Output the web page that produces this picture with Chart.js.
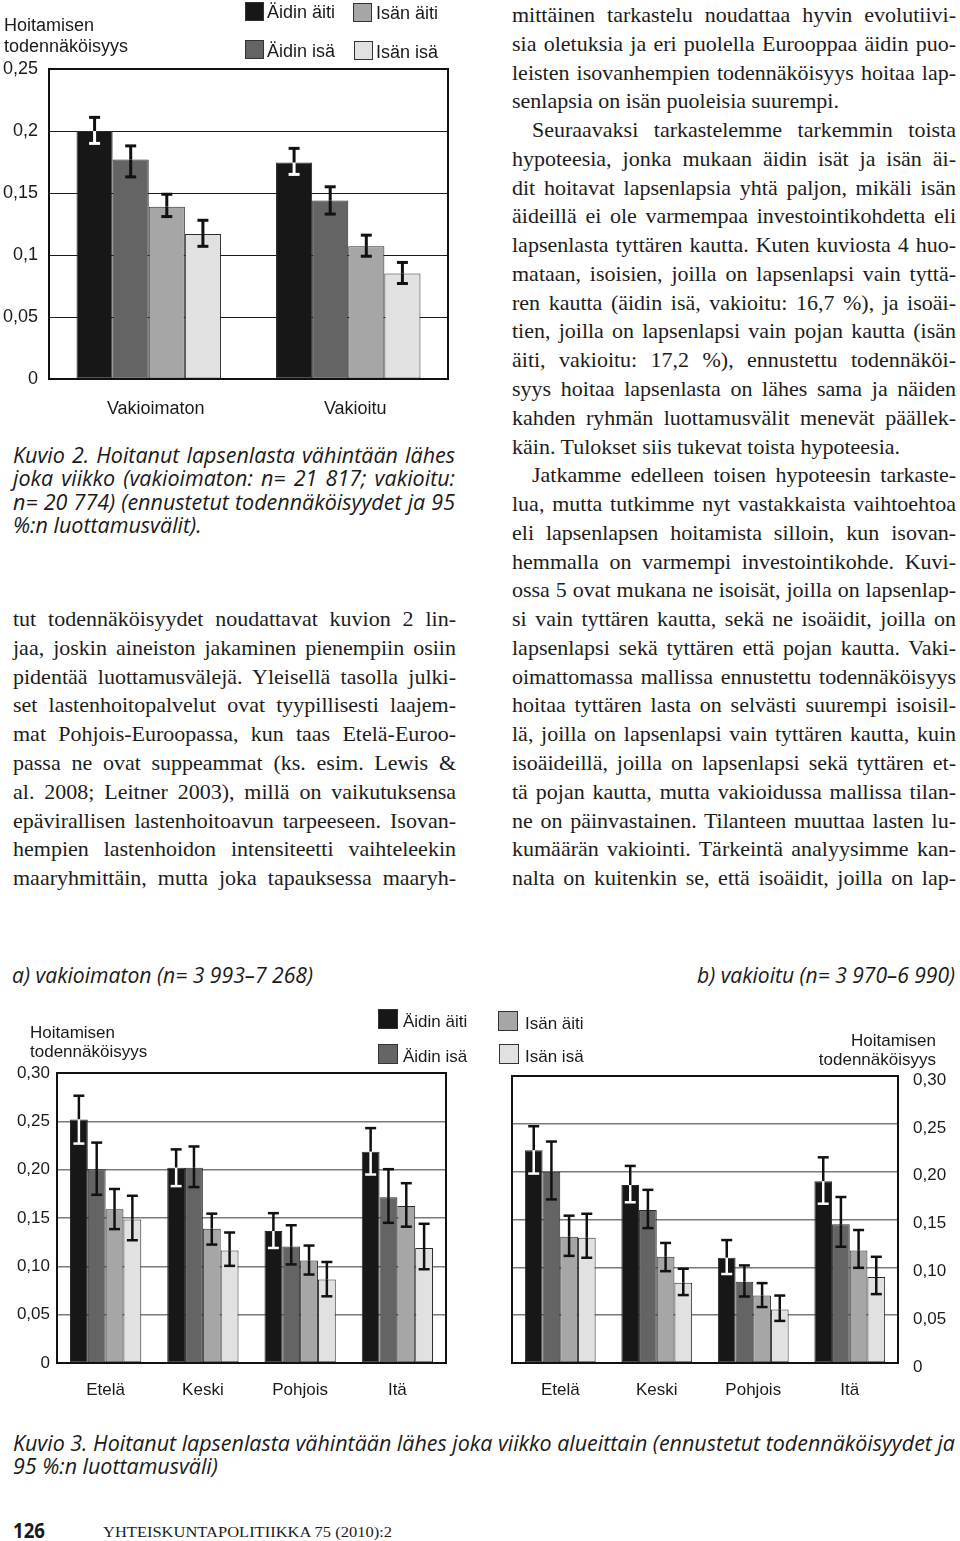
<!DOCTYPE html>
<html><head><meta charset="utf-8">
<script src="https://cdn.jsdelivr.net/npm/chart.js@4.4.0/dist/chart.umd.min.js"></script>
<style>
html,body{margin:0;padding:0;background:#fff;}
body{width:960px;height:1541px;position:relative;overflow:hidden;}
canvas{position:absolute;}
.t{position:absolute;white-space:nowrap;color:#1a1a1a;line-height:1;}
.sq{position:absolute;border:1px solid #333;box-sizing:border-box;}
</style></head><body>
<canvas id="fig2" width="480" height="420" style="left:0;top:0"></canvas>
<canvas id="fig3a" width="480" height="400" style="left:0;top:1000px"></canvas>
<canvas id="fig3b" width="480" height="400" style="left:480px;top:1000px"></canvas>
<script>
// ---------- DATA ----------
const seriesNames = ['Äidin äiti', 'Äidin isä', 'Isän äiti', 'Isän isä'];
const yTitle = ['Hoitamisen', 'todennäköisyys'];

const fig2Categories = ['Vakioimaton', 'Vakioitu'];
const fig2TickLabels = ['0', '0,05', '0,1', '0,15', '0,2', '0,25'];
const fig2AidinAiti = [0.200, 0.1745];
const fig2AidinAitiLow = [0.190, 0.165];
const fig2AidinAitiHigh = [0.211, 0.186];
const fig2AidinIsa = [0.177, 0.144];
const fig2AidinIsaLow = [0.163, 0.133];
const fig2AidinIsaHigh = [0.188, 0.155];
const fig2IsanAiti = [0.139, 0.107];
const fig2IsanAitiLow = [0.131, 0.099];
const fig2IsanAitiHigh = [0.149, 0.116];
const fig2IsanIsa = [0.117, 0.085];
const fig2IsanIsaLow = [0.107, 0.077];
const fig2IsanIsaHigh = [0.128, 0.094];

const fig3Categories = ['Etelä', 'Keski', 'Pohjois', 'Itä'];
const fig3TickLabels = ['0', '0,05', '0,10', '0,15', '0,20', '0,25', '0,30'];
// a) vakioimaton
const fig3aAidinAiti = [0.252, 0.202, 0.1365, 0.2185];
const fig3aAidinAitiLow = [0.227, 0.183, 0.119, 0.195];
const fig3aAidinAitiHigh = [0.2765, 0.221, 0.155, 0.243];
const fig3aAidinIsa = [0.2005, 0.202, 0.1205, 0.1715];
const fig3aAidinIsaLow = [0.174, 0.182, 0.102, 0.145];
const fig3aAidinIsaHigh = [0.228, 0.224, 0.1425, 0.2005];
const fig3aIsanAiti = [0.159, 0.139, 0.106, 0.1625];
const fig3aIsanAitiLow = [0.1385, 0.1225, 0.0915, 0.141];
const fig3aIsanAitiHigh = [0.180, 0.1545, 0.1215, 0.186];
const fig3aIsanIsa = [0.1485, 0.1165, 0.0865, 0.119];
const fig3aIsanIsaLow = [0.127, 0.1005, 0.069, 0.097];
const fig3aIsanIsaHigh = [0.173, 0.135, 0.1045, 0.144];
// b) vakioitu
const fig3bAidinAiti = [0.2225, 0.186, 0.110, 0.190];
const fig3bAidinAitiLow = [0.198, 0.168, 0.093, 0.1665];
const fig3bAidinAitiHigh = [0.2475, 0.206, 0.1285, 0.215];
const fig3bAidinIsa = [0.200, 0.160, 0.085, 0.145];
const fig3bAidinIsaLow = [0.171, 0.141, 0.0695, 0.1215];
const fig3bAidinIsaHigh = [0.2315, 0.181, 0.102, 0.1735];
const fig3bIsanAiti = [0.132, 0.111, 0.0705, 0.1175];
const fig3bIsanAitiLow = [0.112, 0.096, 0.0585, 0.0995];
const fig3bIsanAitiHigh = [0.154, 0.1255, 0.0835, 0.139];
const fig3bIsanIsa = [0.131, 0.084, 0.056, 0.090];
const fig3bIsanIsaLow = [0.110, 0.071, 0.044, 0.072];
const fig3bIsanIsaHigh = [0.156, 0.0985, 0.0705, 0.111];

// ---------- TEXT ----------
const kuvio2Caption = [
  'Kuvio 2. Hoitanut lapsenlasta vähintään lähes',
  'joka viikko (vakioimaton: n= 21 817; vakioitu:',
  'n= 20 774) (ennustetut todennäköisyydet ja 95',
  '%:n luottamusvälit).'
];
const leftColumn = [
  'tut todennäköisyydet noudattavat kuvion 2 lin-',
  'jaa, joskin aineiston jakaminen pienempiin osiin',
  'pidentää luottamusvälejä. Yleisellä tasolla julki-',
  'set lastenhoitopalvelut ovat tyypillisesti laajem-',
  'mat Pohjois-Euroopassa, kun taas Etelä-Euroo-',
  'passa ne ovat suppeammat (ks. esim. Lewis &',
  'al. 2008; Leitner 2003), millä on vaikutuksensa',
  'epävirallisen lastenhoitoavun tarpeeseen. Isovan-',
  'hempien lastenhoidon intensiteetti vaihteleekin',
  'maaryhmittäin, mutta joka tapauksessa maaryh-'
];
const rightColumn = [
  'mittäinen tarkastelu noudattaa hyvin evolutiivi-',
  'sia oletuksia ja eri puolella Eurooppaa äidin puo-',
  'leisten isovanhempien todennäköisyys hoitaa lap-',
  'senlapsia on isän puoleisia suurempi.',
  'Seuraavaksi tarkastelemme tarkemmin toista',
  'hypoteesia, jonka mukaan äidin isät ja isän äi-',
  'dit hoitavat lapsenlapsia yhtä paljon, mikäli isän',
  'äideillä ei ole varmempaa investointikohdetta eli',
  'lapsenlasta tyttären kautta. Kuten kuviosta 4 huo-',
  'mataan, isoisien, joilla on lapsenlapsi vain tyttä-',
  'ren kautta (äidin isä, vakioitu: 16,7 %), ja isoäi-',
  'tien, joilla on lapsenlapsi vain pojan kautta (isän',
  'äiti, vakioitu: 17,2 %), ennustettu todennäköi-',
  'syys hoitaa lapsenlasta on lähes sama ja näiden',
  'kahden ryhmän luottamusvälit menevät päällek-',
  'käin. Tulokset siis tukevat toista hypoteesia.',
  'Jatkamme edelleen toisen hypoteesin tarkaste-',
  'lua, mutta tutkimme nyt vastakkaista vaihtoehtoa',
  'eli lapsenlapsen hoitamista silloin, kun isovan-',
  'hemmalla on varmempi investointikohde. Kuvi-',
  'ossa 5 ovat mukana ne isoisät, joilla on lapsenlap-',
  'si vain tyttären kautta, sekä ne isoäidit, joilla on',
  'lapsenlapsi sekä tyttären että pojan kautta. Vaki-',
  'oimattomassa mallissa ennustettu todennäköisyys',
  'hoitaa tyttären lasta on selvästi suurempi isoisil-',
  'lä, joilla on lapsenlapsi vain tyttären kautta, kuin',
  'isoäideillä, joilla on lapsenlapsi sekä tyttären et-',
  'tä pojan kautta, mutta vakioidussa mallissa tilan-',
  'ne on päinvastainen. Tilanteen muuttaa lasten lu-',
  'kumäärän vakiointi. Tärkeintä analyysimme kan-',
  'nalta on kuitenkin se, että isoäidit, joilla on lap-'
];
const rightIndent = [4, 16];
const rightParaEnd = [3, 15];
const headerA = 'a) vakioimaton (n= 3 993–7 268)';
const headerB = 'b) vakioitu (n= 3 970–6 990)';
const kuvio3Caption = [
  'Kuvio 3. Hoitanut lapsenlasta vähintään lähes joka viikko alueittain (ennustetut todennäköisyydet ja',
  '95 %:n luottamusväli)'
];
const pageNumber = '126';
const journal = 'YHTEISKUNTAPOLITIIKKA 75 (2010):2';

// ---------- STYLE ----------
const seriesColors = ['#171717', '#646464', '#a6a6a6', '#e1e1e1'];
const errInsideColors = ['#ffffff', '#111111', '#111111', '#111111'];
const SANS = "'Liberation Sans', Arial, sans-serif";
const SERIF = "'Liberation Serif', 'Times New Roman', serif";
const CAP = "'Open Sans', 'Noto Sans', sans-serif";
Chart.defaults.font.family = SANS;
Chart.defaults.color = '#1a1a1a';

const framePlugin = {
  id: 'frame',
  afterDatasetsDraw(chart, args, o) {
    const a = chart.chartArea, c = chart.ctx;
    c.save(); c.strokeStyle = '#111'; c.lineWidth = o.width || 2;
    c.strokeRect(a.left, a.top, a.right - a.left, a.bottom - a.top);
    c.restore();
  }
};
const errorBarPlugin = {
  id: 'errorBars',
  afterDatasetsDraw(chart, args, o) {
    const c = chart.ctx, ys = chart.scales.y;
    chart.data.datasets.forEach((ds, i) => {
      const meta = chart.getDatasetMeta(i);
      meta.data.forEach((bar, j) => {
        const x = bar.x, top = bar.y;
        const yh = ys.getPixelForValue(ds.errHigh[j]);
        const yl = ys.getPixelForValue(ds.errLow[j]);
        const hw = o.cap / 2;
        c.save(); c.lineWidth = o.lw; c.lineCap = 'butt';
        const seg = (y1, y2, col) => { if (y2 <= y1) return; c.strokeStyle = col; c.beginPath(); c.moveTo(x, y1); c.lineTo(x, y2); c.stroke(); };
        seg(yh, Math.min(top, yl), o.outside);
        seg(Math.max(top, yh), yl, ds.errInside);
        c.lineWidth = o.capLw;
        const cap = (y) => { c.strokeStyle = y < top ? o.outside : ds.errInside; c.beginPath(); c.moveTo(x - hw, y); c.lineTo(x + hw, y); c.stroke(); };
        cap(yh); cap(yl);
        c.restore();
      });
    });
  }
};

function buildChart(id, cfg) {
  const datasets = seriesNames.map((name, i) => ({
    label: name,
    data: cfg.values[i],
    errLow: cfg.lows[i],
    errHigh: cfg.highs[i],
    errInside: errInsideColors[i],
    backgroundColor: seriesColors[i],
    borderColor: '#2b2b2b',
    borderWidth: 1,
    borderSkipped: false,
    categoryPercentage: cfg.catPct,
    barPercentage: 1
  }));
  return new Chart(document.getElementById(id), {
    type: 'bar',
    data: { labels: cfg.categories, datasets },
    options: {
      responsive: false, animation: false, devicePixelRatio: 1,
      layout: { padding: cfg.padding },
      plugins: { legend: { display: false }, tooltip: { enabled: false },
        frame: { width: 2 },
        errorBars: { lw: cfg.errLw, capLw: cfg.errLw, cap: 11, outside: '#111' } },
      scales: {
        x: {
          grid: { display: false }, border: { display: false },
          ticks: { font: { size: cfg.fontSize }, padding: cfg.xPad, maxRotation: 0, color: '#1a1a1a', labelOffset: cfg.xLabelOffset || 0 },
          afterFit(s) { s.height = cfg.xHeight; }
        },
        y: {
          position: cfg.yPos, min: 0, max: cfg.max,
          ticks: { stepSize: 0.05, font: { size: cfg.fontSize }, padding: cfg.yPad, color: '#1a1a1a',
            labelOffset: cfg.yLabelOffset || 0,
            callback: (v) => cfg.tickLabels[Math.round(v / 0.05)] },
          grid: { color: cfg.gridColor, lineWidth: cfg.gridLw, drawTicks: false },
          border: { display: false },
          afterFit(s) { s.width = cfg.yWidth; }
        }
      }
    },
    plugins: [framePlugin, errorBarPlugin]
  });
}

buildChart('fig2', {
  categories: fig2Categories, tickLabels: fig2TickLabels, max: 0.25,
  values: [fig2AidinAiti, fig2AidinIsa, fig2IsanAiti, fig2IsanIsa],
  lows: [fig2AidinAitiLow, fig2AidinIsaLow, fig2IsanAitiLow, fig2IsanIsaLow],
  highs: [fig2AidinAitiHigh, fig2AidinIsaHigh, fig2IsanAitiHigh, fig2IsanIsaHigh],
  catPct: 0.724, padding: { left: 0, right: 32, top: 69, bottom: 0 },
  yWidth: 49, xHeight: 41, yPos: 'left', fontSize: 18, xPad: 11, yPad: 11, xLabelOffset: 7,
  gridColor: '#1a1a1a', gridLw: 1, errLw: 3
});
buildChart('fig3a', {
  categories: fig3Categories, tickLabels: fig3TickLabels, max: 0.30,
  values: [fig3aAidinAiti, fig3aAidinIsa, fig3aIsanAiti, fig3aIsanIsa],
  lows: [fig3aAidinAitiLow, fig3aAidinIsaLow, fig3aIsanAitiLow, fig3aIsanIsaLow],
  highs: [fig3aAidinAitiHigh, fig3aAidinIsaHigh, fig3aIsanAitiHigh, fig3aIsanIsaHigh],
  catPct: 0.733, padding: { left: 0, right: 34, top: 73, bottom: 0 },
  yWidth: 57, xHeight: 37, yPos: 'left', fontSize: 17, xPad: 9, yPad: 7,
  gridColor: '#7a7a7a', gridLw: 1.5, errLw: 2.5
});
buildChart('fig3b', {
  categories: fig3Categories, tickLabels: fig3TickLabels, max: 0.30,
  values: [fig3bAidinAiti, fig3bAidinIsa, fig3bIsanAiti, fig3bIsanIsa],
  lows: [fig3bAidinAitiLow, fig3bAidinIsaLow, fig3bIsanAitiLow, fig3bIsanIsaLow],
  highs: [fig3bAidinAitiHigh, fig3bAidinIsaHigh, fig3bIsanAitiHigh, fig3bIsanIsaHigh],
  catPct: 0.733, padding: { left: 32, right: 0, top: 76, bottom: 0 },
  yWidth: 62, xHeight: 37, yPos: 'right', fontSize: 17, xPad: 9, yPad: 15, yLabelOffset: 4,
  gridColor: '#7a7a7a', gridLw: 1.5, errLw: 2.5
});

// ---------- TEXT PLACEMENT ----------
function addText(text, x, baseline, o) {
  const d = document.createElement('div');
  d.className = 't';
  d.style.fontFamily = o.family;
  d.style.fontSize = o.size + 'px';
  if (o.italic) d.style.fontStyle = 'italic';
  if (o.bold) d.style.fontWeight = 'bold';
  if (o.color) d.style.color = o.color;
  const s = document.createElement('span');
  s.textContent = text;
  const m = document.createElement('span');
  m.style.display = 'inline-block'; m.style.width = '0'; m.style.height = '0';
  d.appendChild(s); d.appendChild(m);
  d.style.left = x + 'px'; d.style.top = '0px';
  document.body.appendChild(d);
  const natural = s.getBoundingClientRect().width;
  if (o.scaleTo) {
    const sc = o.scaleTo / natural;
    d.style.transformOrigin = 'left top';
    d.style.transform = 'scaleX(' + sc + ')';
    if (o.alignRight) d.style.left = (x - natural * sc) + 'px';
  } else if (o.width) {
    d.style.width = o.width + 'px';
    if (o.justify) {
      if (natural > o.width) d.style.letterSpacing = (-(natural - o.width + 1) / text.length) + 'px';
      d.style.textAlign = 'justify';
      d.style.textAlignLast = 'justify';
    }
  } else if (o.alignRight) {
    d.style.left = (x - natural) + 'px';
  }
  const base = m.offsetTop + m.offsetHeight;
  d.style.top = (baseline - base) + 'px';
  return d;
}

// Figure 2 titles & legend
const sansO = (sz) => ({ family: SANS, size: sz });
addText(yTitle[0], 4, 31, sansO(18));
addText(yTitle[1], 4, 52, sansO(18));
function legendSq(x, y, w, h, col) {
  const q = document.createElement('div'); q.className = 'sq';
  q.style.left = x + 'px'; q.style.top = y + 'px'; q.style.width = w + 'px'; q.style.height = h + 'px';
  q.style.background = col; document.body.appendChild(q);
}
legendSq(245, 2, 19, 19, seriesColors[0]); addText(seriesNames[0], 267, 18, sansO(18));
legendSq(245, 40, 19, 19, seriesColors[1]); addText(seriesNames[1], 267, 57, sansO(18));
legendSq(353, 3, 19, 19, seriesColors[2]); addText(seriesNames[2], 376, 19, sansO(18));
legendSq(354, 41, 19, 19, seriesColors[3]); addText(seriesNames[3], 376, 58, sansO(18));

// Kuvio 2 caption
kuvio2Caption.forEach((l, i) => addText(l, 13, 463 + i * 23.3,
  { family: CAP, size: 21.5, italic: true, width: 442, justify: i < kuvio2Caption.length - 1 }));

// Body text
const bodyO = (w, j) => ({ family: SERIF, size: 22, width: w, justify: j, color: '#1c1c1c' });
const pitch = 28.77, base1 = 22;
leftColumn.forEach((l, i) => addText(l, 13, base1 + (21 + i) * pitch, bodyO(443, true)));
rightColumn.forEach((l, i) => {
  const ind = rightIndent.includes(i) ? 20 : 0;
  addText(l, 512 + ind, base1 + i * pitch, bodyO(444 - ind, !rightParaEnd.includes(i)));
});

// Figure 3 headers, titles, legend
addText(headerA, 12, 983, { family: CAP, size: 21, italic: true, scaleTo: 301 });
addText(headerB, 955, 983, { family: CAP, size: 21, italic: true, scaleTo: 258, alignRight: true });
addText(yTitle[0], 30, 1038, sansO(17));
addText(yTitle[1], 30, 1057, sansO(17));
addText(yTitle[0], 936, 1046, Object.assign(sansO(17), { alignRight: true }));
addText(yTitle[1], 936, 1065, Object.assign(sansO(17), { alignRight: true }));
legendSq(378, 1009, 20, 20, seriesColors[0]); addText(seriesNames[0], 403, 1027, sansO(17));
legendSq(378, 1044, 20, 20, seriesColors[1]); addText(seriesNames[1], 403, 1062, sansO(17));
legendSq(498, 1011, 20, 20, seriesColors[2]); addText(seriesNames[2], 525, 1029, sansO(17));
legendSq(499, 1044, 20, 20, seriesColors[3]); addText(seriesNames[3], 525, 1062, sansO(17));

// Kuvio 3 caption
const capLine1 = addText(kuvio3Caption[0], 13, 1451, { family: CAP, size: 21, italic: true, scaleTo: 942 });
const sc = parseFloat(capLine1.style.transform.replace('scaleX(', ''));
const d2 = addText(kuvio3Caption[1], 13, 1474, { family: CAP, size: 21, italic: true });
d2.style.transformOrigin = 'left top'; d2.style.transform = 'scaleX(' + sc + ')';

// Footer
addText(pageNumber, 13, 1538, { family: CAP, size: 21, bold: true, scaleTo: 32 });
addText(journal, 103, 1537, { family: SERIF, size: 15.5, scaleTo: 289 });
</script>
</body></html>
